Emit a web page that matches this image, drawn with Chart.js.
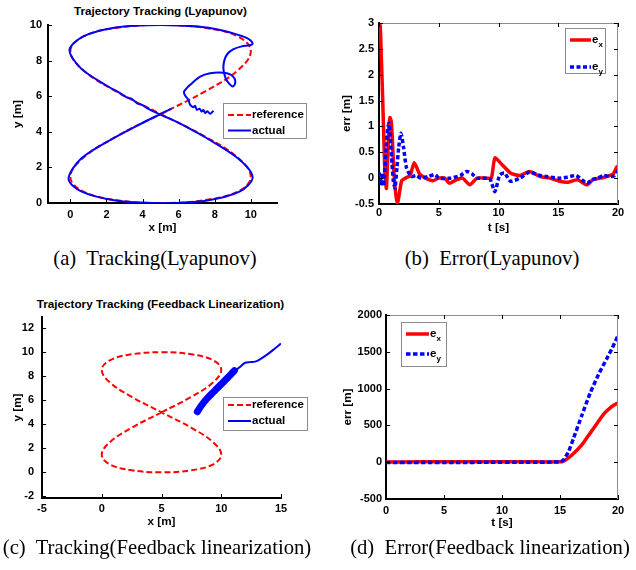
<!DOCTYPE html>
<html>
<head>
<meta charset="utf-8">
<script src="https://cdn.jsdelivr.net/npm/chart.js@4/dist/chart.umd.min.js"></script>
<style>
html, body { margin: 0; padding: 0; background: #fff; overflow: hidden; }
body { width: 636px; height: 570px; position: relative; }
canvas { position: absolute; }
.ttl { position: absolute; width: 400px; text-align: center; white-space: nowrap;
       font: bold 11.7px/12px "Liberation Sans", Arial, sans-serif; color: #000; }
.cap { position: absolute; width: 400px; text-align: center; white-space: pre;
       font: 20.7px/24px "Liberation Serif", "Times New Roman", serif; color: #000; }
</style>
</head>
<body>
<div class="ttl" style="left:-39.5px; top:5px">Trajectory Tracking (Lyapunov)</div>
<div class="ttl" style="left:-39.5px; top:298px">Trajectory Tracking (Feedback Linearization)</div>

<canvas id="chartA" width="318" height="245" style="left:0; top:0"></canvas>
<canvas id="chartB" width="318" height="245" style="left:318px; top:0"></canvas>
<canvas id="chartC" width="318" height="265" style="left:0; top:285px"></canvas>
<canvas id="chartD" width="318" height="265" style="left:318px; top:285px"></canvas>

<div class="cap" style="left:-45px; top:246px">(a)  Tracking(Lyapunov)</div>
<div class="cap" style="left:292px; top:246px">(b)  Error(Lyapunov)</div>
<div class="cap" style="left:-43px; top:535px">(c)  Tracking(Feedback linearization)</div>
<div class="cap" style="left:290px; top:535px">(d)  Error(Feedback linearization)</div>

<script>
// reference figure-eight (same in (a) and (c))
const refX = [5, 7.5, 9.33, 10, 9.33, 7.5, 5, 2.5, 0.67, 0, 0.67, 2.5, 5, 7.5, 9.33, 10, 9.33, 7.5, 5, 2.5, 0.67, 0, 0.67, 2.5, 5];
const refY = [5, 6.29, 7.5, 8.54, 9.33, 9.83, 10, 9.83, 9.33, 8.54, 7.5, 6.29, 5, 3.71, 2.5, 1.46, 0.67, 0.17, 0, 0.17, 0.67, 1.46, 2.5, 3.71, 5];

// (a) actual path, Lyapunov controller
const actAX = [7.93, 7.74, 7.59, 7.47, 7.37, 7.28, 7.15, 7.01, 6.91, 6.82, 6.64, 6.54, 6.35, 6.3, 6.45, 6.64, 7.19, 7.74, 8.48,
  8.85, 9.09, 9.13, 9.0, 8.81, 8.63, 8.52, 8.48, 8.54, 8.7, 9.04, 9.5, 9.92, 10.1, 9.9, 9.5, 9.03, 8.3,
  7.2, 5, 2.5, 0.7, -0.05, 0.6, 2.0, 2.8, 3.1, 3.4, 3.7, 4.0, 4.3, 4.6, 5.0, 5.6, 6.3, 7.5, 9.3, 10.1, 9.4, 7.5, 5, 2.5, 0.6, -0.1, 0.6, 2.5, 4.1, 5.0, 5.6];
const actAY = [5.18, 5.01, 5.16, 5.05, 5.23, 5.14, 5.3, 5.23, 5.46, 5.38, 5.51, 5.79, 6.05, 6.26, 6.45, 6.64, 7.1, 7.29, 7.32,
  7.23, 7.01, 6.73, 6.54, 6.69, 6.95, 7.29, 7.66, 8.04, 8.37, 8.64, 8.8, 8.86, 8.95, 9.2, 9.38, 9.53, 9.72,
  9.9, 10.0, 9.86, 9.35, 8.6, 7.55, 6.6, 6.15, 5.95, 5.85, 5.6, 5.5, 5.3, 5.15, 4.95, 4.7, 4.35, 3.68, 2.5, 1.45, 0.65, 0.13, -0.02, 0.14, 0.65, 1.35, 2.5, 3.7, 4.55, 5.0, 5.3];

// (b) errors, Lyapunov controller
const exBT = [0, 0.1, 0.2, 0.3, 0.4, 0.5, 0.62, 0.72, 0.82, 0.92, 1.02, 1.12, 1.25, 1.4, 1.55, 1.7, 1.9, 2.2, 2.6, 2.95, 3.4, 3.9, 4.5,
  5.0, 5.5, 5.9, 6.5, 7.0, 7.6, 8.2, 9.0, 9.4, 9.7, 10.3, 11.0, 11.8, 12.6, 13.5, 14.3, 15.1, 15.8, 16.6, 17.4, 17.9, 18.5, 19.05, 19.6, 19.9, 20];
const exBV = [3.0, 2.95, 2.3, 1.6, 0.8, 0.1, -0.2, 0.35, 0.95, 1.17, 1.1, 0.75, 0.1, -0.3, -0.5, -0.3, -0.05, 0.0, 0.05, 0.3, 0.08, 0.0, -0.05,
  0.0, 0.0, -0.1, -0.03, 0.0, -0.13, 0.0, 0.0, 0.0, 0.39, 0.26, 0.1, 0.05, 0.13, 0.03, 0.0, -0.06, -0.08, -0.03, -0.13, -0.03, 0.0, 0.03, 0.08, 0.22, 0.2];
const eyBT = [0, 0.1, 0.2, 0.3, 0.4, 0.5, 0.6, 0.72, 0.84, 0.95, 1.05, 1.2, 1.34, 1.5, 1.65, 1.84, 2.05, 2.3, 2.7, 3.1, 3.5, 4.1, 4.7,
  5.0, 6.0, 6.8, 7.35, 7.8, 8.2, 9.0, 9.3, 9.7, 10.1, 10.5, 11.0, 11.8, 12.6, 13.3, 14.0, 15.1, 15.8, 16.5, 17.4, 17.8, 18.3, 18.8, 19.4, 19.7, 20];
const eyBV = [0.1, 0.05, -0.14, 0.1, -0.15, 0.2, 0.6, 0.95, 1.06, 0.8, 0.4, -0.06, -0.19, 0.2, 0.6, 0.87, 0.6, 0.2, 0.03, 0.05, 0.0, 0.03, 0.07,
  0.0, 0.0, 0.05, 0.13, 0.08, 0.0, 0.0, -0.02, -0.26, 0.06, 0.1, -0.06, 0.0, 0.12, 0.06, 0.03, 0.0, 0.02, 0.05, -0.1, -0.03, 0.0, 0.05, 0.03, 0.05, 0.15];

// (c) actual path, feedback linearization (thick start, then thin)
const actCThickX = [8.0, 8.4, 8.83, 9.25, 9.66, 10.08, 10.49, 10.85, 11.1];
const actCThickY = [5.05, 5.65, 6.17, 6.6, 7.0, 7.42, 7.83, 8.2, 8.47];
const actCThinX = [11.1, 11.35, 11.6, 12.0, 12.4, 12.84, 13.3, 13.8, 14.35, 14.9, 15.0];
const actCThinY = [8.47, 8.6, 8.8, 9.13, 9.18, 9.22, 9.45, 9.78, 10.2, 10.65, 10.72];

// (d) errors, feedback linearization
const exDT = [0, 3, 6, 9, 12, 15, 15.3, 15.7, 16.0, 16.5, 17.0, 17.6, 18.2, 18.8, 19.3, 19.7, 20];
const exDV = [3, 5, 5, 5, 5, 5, 15, 55, 95, 170, 260, 395, 530, 660, 735, 780, 805];
const eyDT = [0, 3, 6, 9, 12, 15, 15.3, 15.74, 16.17, 16.9, 17.6, 18.3, 19.05, 19.5, 20];
const eyDV = [-5, -5, -5, 0, 0, 5, 33, 145, 327, 644, 938, 1186, 1413, 1550, 1720];

// tick values
const ticksAX = [0, 2, 4, 6, 8, 10];
const ticksAY = [0, 2, 4, 6, 8, 10];
const ticksTime = [0, 5, 10, 15, 20];
const ticksBY = [-0.5, 0, 0.5, 1, 1.5, 2, 2.5, 3];
const ticksCX = [-5, 0, 5, 10, 15];
const ticksCY = [-2, 0, 2, 4, 6, 8, 10, 12];
const ticksDY = [-500, 0, 500, 1000, 1500, 2000];

const FONT = '"Liberation Sans", Arial, sans-serif';
const RED = '#ff0000';
const BLUE = '#0000ff';

function pts(xs, ys) { return xs.map((x, i) => ({ x: x, y: ys[i] })); }

function scaleOpts(min, max, tickVals, title, size, pad) {
    return {
        type: 'linear', min: min, max: max,
        afterBuildTicks: s => { s.ticks = tickVals.map(v => ({ value: v })); },
        afterFit: s => { if (s.isHorizontal()) s.height = size; else s.width = size; },
        grid: { display: false, drawTicks: false },
        border: { display: true, color: '#000', width: 2 },
        ticks: { padding: pad, color: '#000', autoSkip: false, maxRotation: 0,
                 font: { family: FONT, weight: 'bold', size: 11, lineHeight: 1.2 },
                 callback: v => String(v) },
        title: { display: true, text: title, color: '#000', padding: 0,
                 font: { family: FONT, weight: 'bold', size: 11.7, lineHeight: 1.2 } }
    };
}

// MATLAB-like inward tick marks and optional grey box
const inwardTicks = {
    id: 'inwardTicks',
    afterDatasetsDraw(chart, args, opts) {
        const { ctx, chartArea: a } = chart;
        const xs = chart.scales.x, ys = chart.scales.y;
        ctx.save();
        if (opts.box) {
            ctx.strokeStyle = '#8c8c8c';
            ctx.lineWidth = 1;
            ctx.beginPath();
            ctx.moveTo(a.left, a.top + 0.5);
            ctx.lineTo(a.right - 0.5, a.top + 0.5);
            ctx.lineTo(a.right - 0.5, a.bottom);
            ctx.stroke();
        }
        ctx.strokeStyle = '#000';
        ctx.lineWidth = 1;
        ctx.beginPath();
        xs.ticks.forEach(t => {
            const p = Math.round(xs.getPixelForValue(t.value)) + 0.5;
            ctx.moveTo(p, a.bottom); ctx.lineTo(p, a.bottom - 4);
            if (opts.box) { ctx.moveTo(p, a.top); ctx.lineTo(p, a.top + 4); }
        });
        ys.ticks.forEach(t => {
            const p = Math.round(ys.getPixelForValue(t.value)) + 0.5;
            ctx.moveTo(a.left, p); ctx.lineTo(a.left + 4, p);
            if (opts.box) { ctx.moveTo(a.right, p); ctx.lineTo(a.right - 4, p); }
        });
        ctx.stroke();
        ctx.restore();
    }
};

// boxed legend drawn inside the axes
const boxLegend = {
    id: 'boxLegend',
    afterDraw(chart, args, o) {
        if (!o.items) return;
        const ctx = chart.ctx;
        ctx.save();
        ctx.fillStyle = '#fff';
        ctx.fillRect(o.x, o.y, o.w, o.h);
        ctx.strokeStyle = '#8c8c8c';
        ctx.lineWidth = 1;
        ctx.strokeRect(o.x + 0.5, o.y + 0.5, o.w, o.h);
        o.items.forEach(it => {
            const ds = chart.data.datasets[it.ds];
            ctx.strokeStyle = ds.borderColor;
            ctx.lineWidth = ds.borderWidth;
            ctx.setLineDash(ds.borderDash || []);
            ctx.beginPath();
            ctx.moveTo(o.x0, it.y); ctx.lineTo(o.x1, it.y);
            ctx.stroke();
            ctx.setLineDash([]);
            ctx.fillStyle = '#000';
            ctx.textAlign = 'left';
            ctx.textBaseline = 'middle';
            ctx.font = 'bold 11.5px ' + FONT;
            ctx.fillText(it.text, o.tx, it.y);
            if (it.sub) {
                const w = ctx.measureText(it.text).width;
                ctx.font = 'bold 8px ' + FONT;
                ctx.fillText(it.sub, o.tx + w, it.y + 5);
            }
        });
        ctx.restore();
    }
};

function makeChart(id, datasets, xScale, yScale, padding, box, legend) {
    return new Chart(document.getElementById(id), {
        type: 'scatter',
        data: { datasets: datasets },
        options: {
            responsive: false, animation: false, devicePixelRatio: 1,
            layout: { padding: padding },
            scales: { x: xScale, y: yScale },
            elements: { point: { radius: 0 } },
            plugins: {
                legend: { display: false }, tooltip: { enabled: false },
                inwardTicks: { box: box }, boxLegend: legend
            }
        },
        plugins: [inwardTicks, boxLegend]
    });
}

function line(data, color, width, dash, order, tension) {
    return { data: data, showLine: true, borderColor: color, backgroundColor: color, borderWidth: width,
             borderDash: dash, pointRadius: 0, tension: tension, order: order, fill: false };
}

// (a)
makeChart('chartA', [
    line(pts(refX, refY), RED, 2, [6, 3], 1, 0.4),
    line(pts(actAX, actAY), BLUE, 2, [], 0, 0.3)
], scaleOpts(-1.24, 11.45, ticksAX, 'x [m]', 32, 5),
   scaleOpts(0, 10, ticksAY, 'y [m]', 37, 6),
   { left: 11, top: 25, right: 41, bottom: 10 }, false,
   { x: 223, y: 103, w: 83, h: 35, x0: 228, x1: 251, tx: 252,
     items: [{ ds: 0, y: 115, text: 'reference' }, { ds: 1, y: 130.5, text: 'actual' }] });

// (b)
makeChart('chartB', [
    line(pts(exBT, exBV), RED, 3.5, [], 1, 0.2),
    line(pts(eyBT, eyBV), BLUE, 3.5, [4, 2.5], 0, 0.2)
], scaleOpts(0, 20, ticksTime, 't [s]', 31, 2),
   scaleOpts(-0.5, 3, ticksBY, 'err [m]', 39, 5),
   { left: 22, top: 23, right: 18, bottom: 10 }, true,
   { x: 247, y: 28, w: 40, h: 45, x0: 252, x1: 273, tx: 274,
     items: [{ ds: 0, y: 40, text: 'e', sub: 'x' }, { ds: 1, y: 67, text: 'e', sub: 'y' }] });

// (c)
makeChart('chartC', [
    line(pts(refX, refY), RED, 2, [6, 3], 2, 0.4),
    line(pts(actCThinX, actCThinY), BLUE, 2, [], 0, 0.3),
    Object.assign(line(pts(actCThickX, actCThickY), BLUE, 7, [], 1, 0.3), { borderCapStyle: 'round', borderJoinStyle: 'round' })
], scaleOpts(-5, 15, ticksCX, 'x [m]', 31, 4),
   scaleOpts(-2.14, 12.94, ticksCY, 'y [m]', 31, 8),
   { left: 11, top: 32, right: 37, bottom: 21 }, false,
   { x: 223, y: 112, w: 84, h: 33, x0: 228, x1: 251, tx: 252,
     items: [{ ds: 0, y: 120, text: 'reference' }, { ds: 1, y: 136, text: 'actual' }] });

// (d)
makeChart('chartD', [
    line(pts(exDT, exDV), RED, 3.5, [], 1, 0.2),
    line(pts(eyDT, eyDV), BLUE, 3.5, [4.5, 2.5], 0, 0.2)
], scaleOpts(0, 20, ticksTime, 't [s]', 31, 5),
   scaleOpts(-500, 2000, ticksDY, 'err [m]', 45, 4),
   { left: 23, top: 30, right: 18, bottom: 20 }, true,
   { x: 83, y: 37, w: 45, h: 44, x0: 88, x1: 111, tx: 112,
     items: [{ ds: 0, y: 49, text: 'e', sub: 'x' }, { ds: 1, y: 69, text: 'e', sub: 'y' }] });
</script>
</body>
</html>
